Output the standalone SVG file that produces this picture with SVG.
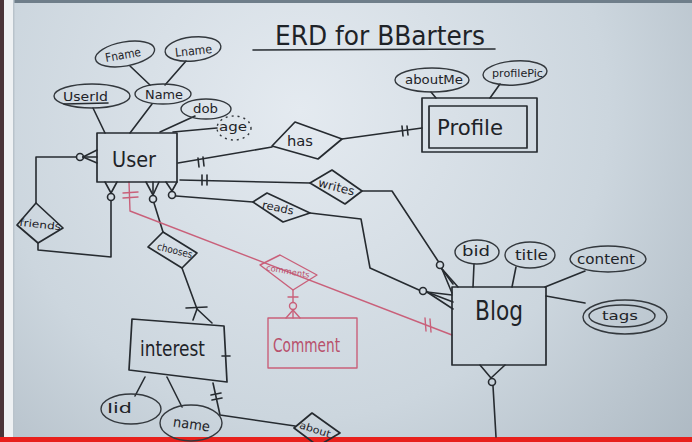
<svg xmlns="http://www.w3.org/2000/svg" width="692" height="442" viewBox="0 0 692 442">
<defs>
<radialGradient id="bg" cx="300" cy="110" r="560" gradientUnits="userSpaceOnUse">
<stop offset="0" stop-color="#e4eaf0"/>
<stop offset="0.55" stop-color="#ccd6de"/>
<stop offset="1" stop-color="#a7b3bd"/>
</radialGradient>
<style>
.ln{fill:none;stroke:#262b30;stroke-width:1.6;stroke-linecap:round;stroke-linejoin:round}
.pk{fill:none;stroke:#c9607a;stroke-width:1.4;stroke-linecap:round;stroke-linejoin:round}
.sh{fill:none;stroke:#262b30;stroke-width:1.7;stroke-linejoin:round}
.el{fill:none;stroke:#33383d;stroke-width:1.4}
.t{font-family:"DejaVu Sans","Liberation Sans",sans-serif;fill:#1e2328}
.tp{font-family:"DejaVu Sans","Liberation Sans",sans-serif;fill:#b8506c}
</style>
</defs>
<rect width="692" height="442" fill="url(#bg)"/>
<rect x="0" y="0" width="692" height="3" fill="#6f7e8a"/>
<rect x="0" y="0" width="4" height="442" fill="#4a3438"/>
<rect x="4" y="0" width="10" height="442" fill="#eef1f3"/>
<rect x="13" y="0" width="1.5" height="442" fill="#b9c3cb"/>
<rect x="0" y="437" width="692" height="5" fill="#e8201c"/>

<g id="title">
<text class="t" x="275" y="45" font-size="26" textLength="210" lengthAdjust="spacingAndGlyphs">ERD for BBarters</text>
<line class="ln" x1="253" y1="50" x2="495" y2="49"/>
</g>

<g id="connectors">
<line class="ln" x1="93" y1="108" x2="105" y2="133"/>
<line class="ln" x1="152" y1="104" x2="130" y2="133"/>
<line class="ln" x1="130" y1="66" x2="150" y2="85"/>
<line class="ln" x1="186" y1="61" x2="165" y2="85"/>
<line class="ln" x1="195" y1="116" x2="160" y2="132"/>
<line class="ln" x1="173" y1="132" x2="217" y2="128"/>
<line class="ln" x1="431" y1="92" x2="436" y2="98"/>
<line class="ln" x1="500" y1="84" x2="490" y2="98"/>
<line class="ln" x1="474" y1="264" x2="473" y2="287"/>
<line class="ln" x1="516" y1="267" x2="512" y2="287"/>
<line class="ln" x1="585" y1="271" x2="545" y2="287"/>
<line class="ln" x1="546" y1="296" x2="585" y2="303"/>
<line class="ln" x1="135" y1="396" x2="145" y2="377"/>
<line class="ln" x1="182" y1="407" x2="167" y2="377"/>
<polyline class="ln" points="178,163 272,147"/>
<line class="ln" x1="198" y1="158" x2="199" y2="167"/>
<line class="ln" x1="203" y1="157" x2="204" y2="166"/>
<line class="ln" x1="342" y1="139" x2="422" y2="128"/>
<line class="ln" x1="402" y1="126" x2="403" y2="136"/>
<line class="ln" x1="407" y1="126" x2="408" y2="135"/>
<polyline class="ln" points="36,203 36,157 76,157"/>
<circle class="ln" cx="80" cy="157" r="3.5"/>
<line class="ln" x1="83" y1="157" x2="97" y2="150"/>
<line class="ln" x1="83" y1="157" x2="97" y2="157"/>
<line class="ln" x1="83" y1="157" x2="97" y2="163"/>
<polyline class="ln" points="38,243 38,250 111,257 111,201"/>
<circle class="ln" cx="111" cy="197" r="3.5"/>
<line class="ln" x1="111" y1="193" x2="105" y2="182"/>
<line class="ln" x1="111" y1="193" x2="117" y2="182"/>
<circle class="ln" cx="153" cy="199" r="3.5"/>
<line class="ln" x1="153" y1="195" x2="146" y2="182"/>
<line class="ln" x1="153" y1="195" x2="153" y2="182"/>
<line class="ln" x1="153" y1="195" x2="159" y2="182"/>
<line class="ln" x1="154" y1="203" x2="163" y2="232"/>
<line class="ln" x1="182" y1="268" x2="197" y2="309"/>
<line class="ln" x1="186" y1="308" x2="207" y2="307"/>
<line class="ln" x1="197" y1="309" x2="193" y2="320"/>
<line class="ln" x1="197" y1="309" x2="212" y2="323"/>
<circle class="ln" cx="172" cy="195" r="3.5"/>
<line class="ln" x1="172" y1="191" x2="166" y2="182"/>
<line class="ln" x1="172" y1="191" x2="177" y2="182"/>
<line class="ln" x1="176" y1="196" x2="253" y2="202"/>
<polyline class="ln" points="310,213 361,219 370,268 419,290"/>
<circle class="ln" cx="423" cy="291" r="3.5"/>
<line class="ln" x1="427" y1="292" x2="452" y2="295"/>
<line class="ln" x1="427" y1="292" x2="453" y2="302"/>
<line class="ln" x1="427" y1="292" x2="453" y2="309"/>
<line class="ln" x1="180" y1="180" x2="310" y2="183"/>
<line class="ln" x1="202" y1="175" x2="202" y2="185"/>
<line class="ln" x1="207" y1="175" x2="207" y2="185"/>
<polyline class="ln" points="362,191 392,191 438,261"/>
<circle class="ln" cx="440" cy="265" r="3.5"/>
<line class="ln" x1="442" y1="269" x2="453" y2="284"/>
<line class="ln" x1="442" y1="269" x2="458" y2="287"/>
<line class="ln" x1="442" y1="269" x2="452" y2="293"/>
<polyline class="pk" points="129,182 130,211 452,335"/>
<line class="pk" x1="123" y1="193" x2="138" y2="192"/>
<line class="pk" x1="123" y1="198" x2="138" y2="197"/>
<line class="pk" x1="425" y1="318" x2="426" y2="331"/>
<line class="pk" x1="430" y1="319" x2="431" y2="332"/>
<line class="pk" x1="293" y1="290" x2="293" y2="302"/>
<line class="pk" x1="288" y1="297" x2="298" y2="297"/>
<circle class="pk" cx="293" cy="306" r="3.5"/>
<line class="pk" x1="293" y1="310" x2="286" y2="318"/>
<line class="pk" x1="293" y1="310" x2="293" y2="318"/>
<line class="pk" x1="293" y1="310" x2="300" y2="318"/>
<polyline class="ln" points="213,383 220,415 295,426"/>
<line class="ln" x1="211" y1="395" x2="221" y2="393"/>
<line class="ln" x1="212" y1="400" x2="222" y2="398"/>
<line class="ln" x1="222" y1="356" x2="230" y2="356"/>
<line class="ln" x1="491" y1="378" x2="480" y2="365"/>
<line class="ln" x1="491" y1="378" x2="505" y2="365"/>
<circle class="ln" cx="492" cy="382" r="3.5"/>
<line class="ln" x1="493" y1="386" x2="496" y2="437"/>
</g>

<g id="user">
<rect class="sh" x="97" y="133" width="80" height="49"/>
<text class="t" x="112" y="167" font-size="22" textLength="44" lengthAdjust="spacingAndGlyphs">User</text>
</g>
<g id="userid">
<ellipse class="el" cx="92" cy="96" rx="38" ry="12"/>
<text class="t" x="63" y="101" font-size="13" textLength="45" lengthAdjust="spacingAndGlyphs">UserId</text>
<line class="ln" x1="64" y1="104" x2="108" y2="103" stroke-width="1.2"/>
</g>
<g id="name">
<ellipse class="el" cx="163" cy="94" rx="28" ry="10"/>
<text class="t" x="145" y="99" font-size="13" textLength="38" lengthAdjust="spacingAndGlyphs">Name</text>
</g>
<g id="fname">
<ellipse class="el" cx="125" cy="54" rx="30" ry="12" transform="rotate(-10 125 54)"/>
<text class="t" x="105" y="59" font-size="12" textLength="36" lengthAdjust="spacingAndGlyphs" transform="rotate(-10 123 55)">Fname</text>
</g>
<g id="lname">
<ellipse class="el" cx="193" cy="49" rx="28" ry="12" transform="rotate(-6 193 49)"/>
<text class="t" x="175" y="55" font-size="12" textLength="37" lengthAdjust="spacingAndGlyphs" transform="rotate(-6 193 51)">Lname</text>
</g>
<g id="dob">
<ellipse class="el" cx="206" cy="109" rx="25" ry="10"/>
<text class="t" x="193" y="113" font-size="12" textLength="25" lengthAdjust="spacingAndGlyphs">dob</text>
</g>
<g id="age">
<ellipse class="el" cx="234" cy="128" rx="17" ry="12" stroke-dasharray="2 4"/>
<text class="t" x="219" y="131" font-size="13" textLength="28" lengthAdjust="spacingAndGlyphs">age</text>
</g>

<g id="has">
<polygon class="sh" points="272,146 295,122 342,139 318,159"/>
<text class="t" x="287" y="146" font-size="14" textLength="26" lengthAdjust="spacingAndGlyphs">has</text>
</g>

<g id="profile">
<rect class="sh" x="422" y="98" width="115" height="54"/>
<rect class="sh" x="429" y="106" width="98" height="42"/>
<text class="t" x="437" y="135" font-size="22" textLength="66" lengthAdjust="spacingAndGlyphs">Profile</text>
</g>
<g id="aboutme">
<ellipse class="el" cx="432" cy="80" rx="37" ry="12"/>
<text class="t" x="405" y="84" font-size="12" textLength="58" lengthAdjust="spacingAndGlyphs">aboutMe</text>
</g>
<g id="profilepic">
<ellipse class="el" cx="515" cy="73" rx="32" ry="12" transform="rotate(-4 515 73)"/>
<text class="t" x="492" y="77" font-size="11" textLength="51" lengthAdjust="spacingAndGlyphs">profilePic</text>
</g>

<g id="friends">
<polygon class="sh" points="36,203 17,225 38,243 63,228"/>
<text class="t" x="19" y="228" font-size="10" textLength="42" lengthAdjust="spacingAndGlyphs" transform="rotate(6 40 226)">friends</text>
</g>

<g id="chooses">
<polygon class="sh" points="163,232 148,247 182,268 197,253"/>
<text class="t" x="157" y="254" font-size="10" textLength="36" lengthAdjust="spacingAndGlyphs" transform="rotate(14 175 250)">chooses</text>
</g>

<g id="writes">
<polygon class="sh" points="310,183 332,170 362,191 345,204"/>
<text class="t" x="318" y="191" font-size="12" textLength="37" lengthAdjust="spacingAndGlyphs" transform="rotate(14 336 187)">writes</text>
</g>

<g id="reads">
<polygon class="sh" points="253,202 267,193 310,213 283,222"/>
<text class="t" x="262" y="212" font-size="11" textLength="32" lengthAdjust="spacingAndGlyphs" transform="rotate(12 280 208)">reads</text>
</g>

<g id="comments">
<polygon class="pk" points="260,265 280,255 317,275 293,290"/>
<text class="tp" x="266" y="274" font-size="8" textLength="44" lengthAdjust="spacingAndGlyphs" transform="rotate(10 288 271)">comments</text>
</g>
<g id="comment">
<rect class="pk" x="268" y="318" width="89" height="50" stroke-width="1.6"/>
<text class="tp" x="273" y="352" font-size="19" textLength="67" lengthAdjust="spacingAndGlyphs">Comment</text>
</g>

<g id="blog">
<rect class="sh" x="452" y="287" width="94" height="78"/>
<text class="t" x="475" y="320" font-size="26" textLength="48" lengthAdjust="spacingAndGlyphs">Blog</text>
</g>
<g id="bid">
<ellipse class="el" cx="477" cy="252" rx="22" ry="12"/>
<text class="t" x="462" y="256" font-size="14" textLength="28" lengthAdjust="spacingAndGlyphs">bid</text>
</g>
<g id="btitle">
<ellipse class="el" cx="530" cy="255" rx="25" ry="13"/>
<text class="t" x="515" y="260" font-size="14" textLength="33" lengthAdjust="spacingAndGlyphs">title</text>
</g>
<g id="content">
<ellipse class="el" cx="608" cy="259" rx="38" ry="13"/>
<text class="t" x="577" y="264" font-size="14" textLength="58" lengthAdjust="spacingAndGlyphs">content</text>
</g>
<g id="tags">
<ellipse class="el" cx="625" cy="317" rx="42" ry="17"/>
<ellipse class="el" cx="622" cy="316" rx="33" ry="11"/>
<text class="t" x="602" y="320" font-size="13" textLength="36" lengthAdjust="spacingAndGlyphs">tags</text>
</g>

<g id="interest">
<polygon class="sh" points="132,319 224,326 227,382 129,370"/>
<text class="t" x="140" y="356" font-size="22" textLength="65" lengthAdjust="spacingAndGlyphs">interest</text>
</g>
<g id="iid">
<ellipse class="el" cx="131" cy="409" rx="30" ry="15"/>
<text class="t" x="107" y="413" font-size="14" textLength="25" lengthAdjust="spacingAndGlyphs">Iid</text>
</g>
<g id="iname">
<ellipse class="el" cx="191" cy="423" rx="31" ry="18"/>
<text class="t" x="173" y="429" font-size="14" textLength="37" lengthAdjust="spacingAndGlyphs" transform="rotate(8 191 425)">name</text>
</g>
<g id="about">
<polygon class="sh" points="312,413 294,428 318,446 340,433"/>
<text class="t" x="299" y="433" font-size="10" textLength="32" lengthAdjust="spacingAndGlyphs" transform="rotate(18 315 430)">about</text>
</g>
</svg>
